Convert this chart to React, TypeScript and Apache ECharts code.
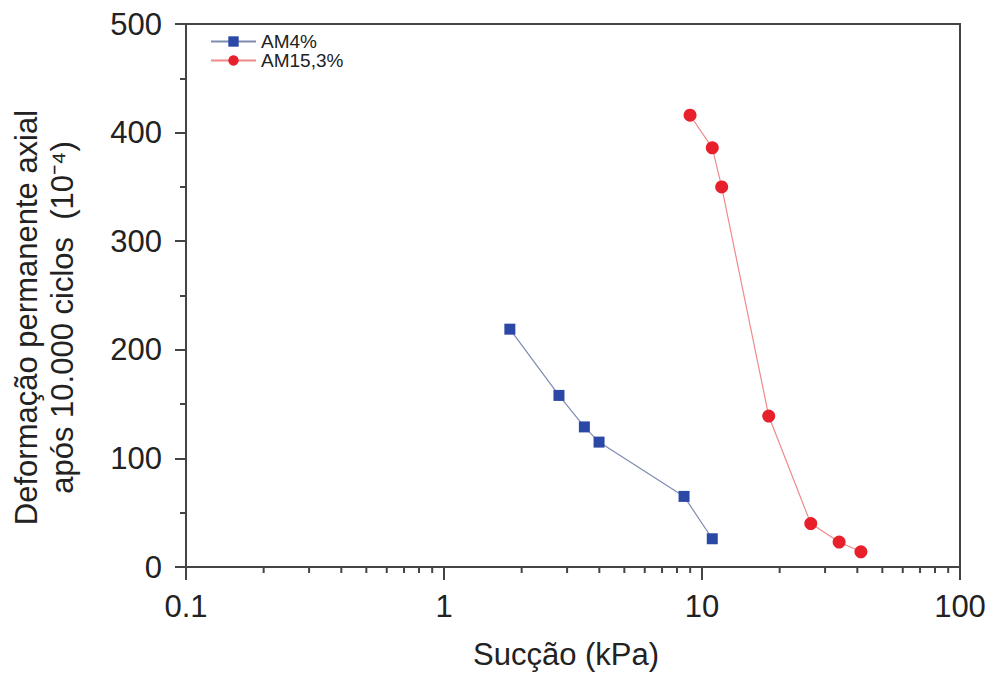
import React, { useEffect, useRef } from "react";
import * as echarts from "echarts";

const am4X = [1.8, 2.79, 3.5, 3.99, 8.52, 10.96];
const am4Y = [219, 158, 129, 115, 65, 26];
const am15X = [8.99, 10.96, 11.92, 18.14, 26.4, 34.0, 41.3];
const am15Y = [416, 386, 350, 139, 40, 23, 14];
const minorTicks = [0.2, 0.3, 0.4, 0.5, 0.6, 0.7, 0.8, 0.9, 2, 3, 4, 5, 6, 7, 8, 9, 20, 30, 40, 50, 60, 70, 80, 90];
const seriesNames = ["AM4%", "AM15,3%"];

export default function App() {
  const ref = useRef<HTMLDivElement>(null);
  useEffect(() => {
    const chart = echarts.init(ref.current!, null, { renderer: "svg" });
    const font = "'Liberation Sans', Arial, sans-serif";
    const axisColor = "#444";
    chart.setOption({
      animation: false,
      textStyle: { fontFamily: font },
      grid: {
        left: 186,
        right: 34,
        top: 24,
        bottom: 106,
        show: true,
        borderColor: axisColor,
        borderWidth: 2,
        backgroundColor: "transparent",
        outerBoundsMode: "none",
        containLabel: false,
      },
      legend: {
        data: seriesNames,
        orient: "vertical",
        left: 205,
        top: 27,
        itemWidth: 45,
        itemHeight: 13,
        itemGap: 0,
        textStyle: { fontSize: 19, color: "#222", fontFamily: font },
      },
      xAxis: {
        type: "log",
        logBase: 10,
        min: 0.1,
        max: 100,
        name: "Sucção (kPa)",
        nameLocation: "middle",
        nameGap: 72,
        nameTextStyle: { fontSize: 31, color: "#222", padding: [0, 14, 0, 0] },
        axisLine: { show: true, lineStyle: { color: axisColor, width: 2 } },
        axisTick: { show: true, length: 13, lineStyle: { color: axisColor, width: 2 } },
        axisLabel: { fontSize: 31, color: "#222", margin: 24, formatter: (v: number) => String(v) },
        splitLine: { show: false },
        minorTick: { show: false },
      },
      yAxis: {
        type: "value",
        min: 0,
        max: 500,
        interval: 100,
        name: "Deformação permanente axial\napós 10.000 ciclos  (10⁻⁴)",
        nameLocation: "middle",
        nameGap: 106,
        nameTextStyle: { fontSize: 31, color: "#222", lineHeight: 36, padding: [0, 44, 0, 0] },
        axisLine: { show: true, lineStyle: { color: axisColor, width: 2 } },
        axisTick: { show: true, length: 11, lineStyle: { color: axisColor, width: 2 } },
        minorTick: { show: true, splitNumber: 2, length: 6, lineStyle: { color: axisColor, width: 2 } },
        axisLabel: { fontSize: 31, color: "#222", margin: 24 },
        splitLine: { show: false },
      },
      series: [
        {
          name: "AM4%",
          type: "line",
          data: am4X.map((x, i) => [x, am4Y[i]]),
          symbol: "rect",
          symbolSize: 11,
          itemStyle: { color: "#2c48a6" },
          lineStyle: { color: "#7f8bb0", width: 1.2 },
        },
        {
          name: "AM15,3%",
          type: "line",
          data: am15X.map((x, i) => [x, am15Y[i]]),
          symbol: "circle",
          symbolSize: 13,
          itemStyle: { color: "#e8202c" },
          lineStyle: { color: "#ee8a8a", width: 1.2 },
        },
        {
          name: "minor",
          type: "custom",
          silent: true,
          clip: false,
          data: minorTicks.map((v) => [v, 0]),
          renderItem: (params: any, api: any) => {
            const p = api.coord([api.value(0), 0]);
            return {
              type: "line",
              shape: { x1: p[0], y1: p[1], x2: p[0], y2: p[1] + 6 },
              style: { stroke: axisColor, lineWidth: 2 },
            };
          },
        },
      ],
    });
    return () => chart.dispose();
  }, []);
  return <div ref={ref} style={{ position: "absolute", left: 0, top: 0, width: 994, height: 673, background: "#fff" }} />;
}
